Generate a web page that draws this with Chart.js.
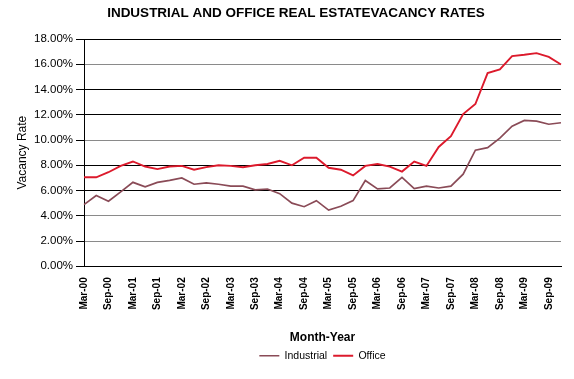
<!DOCTYPE html>
<html>
<head>
<meta charset="utf-8">
<script src="https://cdn.jsdelivr.net/npm/chart.js@4.4.1/dist/chart.umd.min.js"></script>
<style>
  html, body { margin: 0; padding: 0; background: #ffffff; }
  #wrap { width: 574px; height: 379px; position: relative; }
</style>
</head>
<body>
<div id="wrap"><canvas id="c" width="574" height="379"></canvas></div>
<script>
const chartTitle = 'INDUSTRIAL AND OFFICE REAL ESTATEVACANCY RATES';
const xAxisTitle = 'Month-Year';
const yAxisTitle = 'Vacancy Rate';

const categories = [
  'Mar-00','Jun-00','Sep-00','Dec-00','Mar-01','Jun-01','Sep-01','Dec-01',
  'Mar-02','Jun-02','Sep-02','Dec-02','Mar-03','Jun-03','Sep-03','Dec-03',
  'Mar-04','Jun-04','Sep-04','Dec-04','Mar-05','Jun-05','Sep-05','Dec-05',
  'Mar-06','Jun-06','Sep-06','Dec-06','Mar-07','Jun-07','Sep-07','Dec-07',
  'Mar-08','Jun-08','Sep-08','Dec-08','Mar-09','Jun-09','Sep-09','Dec-09'
];

const industrial = [
  4.88, 5.60, 5.15, 5.90, 6.65, 6.30, 6.65, 6.80,
  7.00, 6.50, 6.60, 6.50, 6.35, 6.35, 6.05, 6.12,
  5.75, 5.00, 4.72, 5.20, 4.45, 4.75, 5.20, 6.80,
  6.13, 6.20, 7.05, 6.15, 6.35, 6.20, 6.35, 7.30,
  9.20, 9.40, 10.15, 11.10, 11.55, 11.50, 11.25, 11.37
];

const office = [
  7.05, 7.05, 7.45, 7.95, 8.30, 7.90, 7.70, 7.90,
  7.95, 7.65, 7.85, 8.00, 7.95, 7.85, 8.00, 8.10,
  8.35, 8.00, 8.60, 8.60, 7.80, 7.65, 7.20, 7.95,
  8.10, 7.90, 7.50, 8.30, 7.95, 9.45, 10.30, 12.05,
  12.85, 15.30, 15.60, 16.65, 16.75, 16.88, 16.58, 15.98
];

const yTicks = [0, 2, 4, 6, 8, 10, 12, 14, 16, 18];

const titlePlugin = {
  id: 'customTitle',
  afterDraw(chart) {
    const ctx = chart.ctx;
    ctx.save();
    ctx.font = 'bold 13.5px "Liberation Sans", Arial, sans-serif';
    ctx.fillStyle = '#000';
    ctx.textAlign = 'center';
    ctx.textBaseline = 'middle';
    ctx.fillText(chartTitle, 296, 13);
    ctx.restore();
  }
};

const darkLines = [0, 6, 8, 12, 14, 18];

new Chart(document.getElementById('c'), {
  type: 'line',
  data: {
    labels: categories,
    datasets: [
      { label: 'Industrial', data: industrial, borderColor: '#8a4b57', backgroundColor: '#8a4b57',
        borderWidth: 1.7, pointRadius: 0, tension: 0, fill: false },
      { label: 'Office', data: office, borderColor: '#dc1a2c', backgroundColor: '#dc1a2c',
        borderWidth: 1.9, pointRadius: 0, tension: 0, fill: false }
    ]
  },
  options: {
    responsive: false,
    animation: false,
    devicePixelRatio: 1,
    layout: { padding: { left: 11, right: 13, top: 39, bottom: 8 } },
    font: { family: '"Liberation Sans", Arial, sans-serif' },
    plugins: {
      title: { display: false },
      tooltip: { enabled: false },
      legend: {
        position: 'bottom',
        fullSize: false,
        labels: {
          usePointStyle: true,
          pointStyle: 'line',
          pointStyleWidth: 20,
          boxHeight: 2,
          padding: 6,
          color: '#000',
          font: { size: 10.5, family: '"Liberation Sans", Arial, sans-serif' }
        }
      }
    },
    scales: {
      x: {
        type: 'category',
        offset: false,
        afterFit: function(scale) { scale.paddingRight = 0; scale.paddingLeft = 0; },
        grid: { display: false, drawTicks: false },
        border: { display: true, color: '#000', width: 1 },
        ticks: {
          autoSkip: false,
          maxRotation: 90,
          minRotation: 90,
          padding: 11,
          color: '#000',
          font: { size: 10, weight: 'bold', family: '"Liberation Sans", Arial, sans-serif' },
          callback: function(v, i) { return i % 2 === 0 ? categories[i] : ''; }
        },
        title: {
          display: true,
          text: xAxisTitle,
          color: '#000',
          padding: { top: 9, bottom: 0 },
          font: { size: 12, weight: 'bold', family: '"Liberation Sans", Arial, sans-serif' }
        }
      },
      y: {
        min: 0,
        max: 18,
        afterBuildTicks: function(scale) { scale.ticks = yTicks.map(v => ({ value: v })); },
        afterFit: function(scale) { scale.width = 73; },
        grid: {
          color: function(ctx) { return darkLines.includes(ctx.tick && ctx.tick.value) ? '#000' : '#8a8a8a'; },
          tickColor: '#000',
          tickLength: 8,
          lineWidth: 1
        },
        border: { display: true, color: '#000', width: 1 },
        ticks: {
          padding: 3,
          color: '#000',
          font: { size: 11.5, family: '"Liberation Sans", Arial, sans-serif' },
          callback: function(v) { return v.toFixed(2) + '%'; }
        },
        title: {
          display: true,
          text: yAxisTitle,
          color: '#000',
          padding: { top: 4, bottom: 4 },
          font: { size: 12, family: '"Liberation Sans", Arial, sans-serif' }
        }
      }
    }
  },
  plugins: [titlePlugin]
});
</script>
</body>
</html>
